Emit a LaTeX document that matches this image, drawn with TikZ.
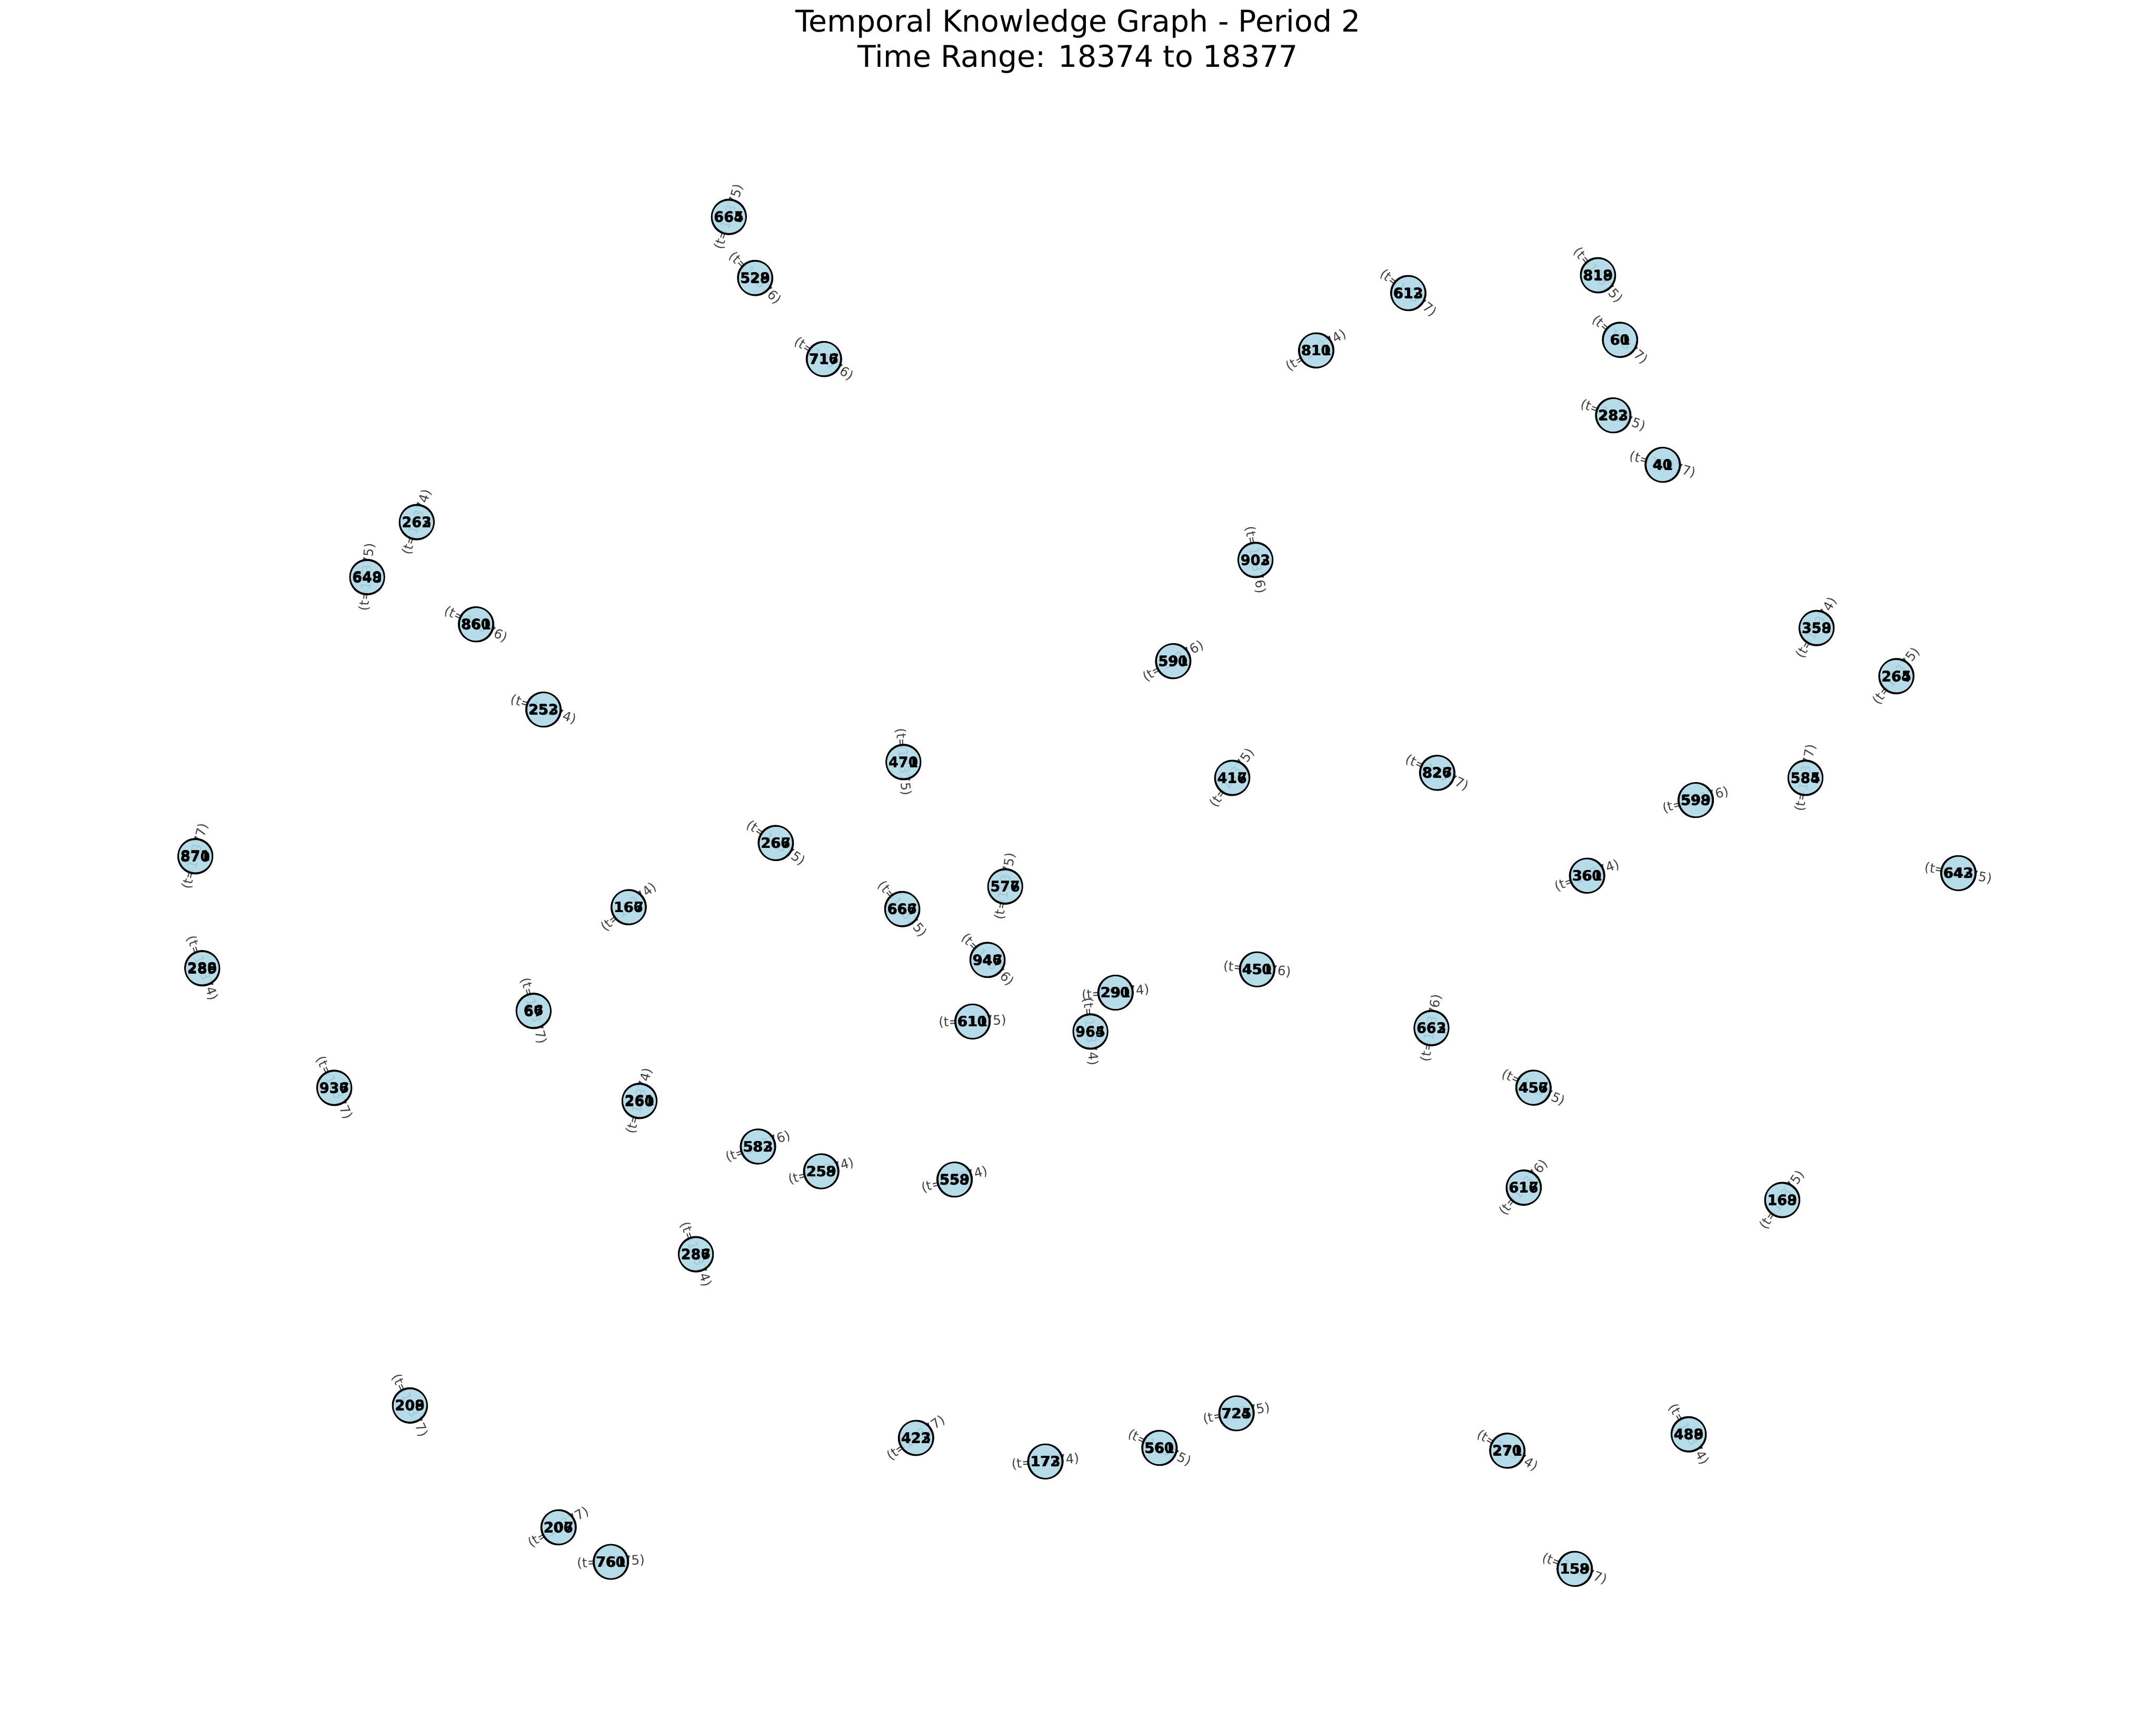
\documentclass[tikz,border=0pt]{standalone}
\usepackage{fontspec}
\setmainfont{DejaVu Sans}
\usepackage{tikz}
\usetikzlibrary{backgrounds}
\definecolor{lightblue}{RGB}{173,216,230}

\begin{document}
\begin{tikzpicture}[x=0.02cm,y=-0.02cm,
    main node/.style={circle,draw,line width=0.55pt,fill=lightblue,fill opacity=0.9,
      text opacity=1,minimum size=0.5cm,inner sep=0pt,font=\bfseries\fontsize{5.9}{6}\selectfont},
    twin node/.style={circle,draw,line width=0.55pt,minimum size=0.5cm,inner sep=0pt,
      font=\bfseries\fontsize{5.9}{6}\selectfont},
    every edge/.style={draw,black!50,line width=0.4pt},
    title/.style={align=center,font=\fontsize{12.4}{14.6}\selectfont}]

\useasboundingbox (0,0) rectangle (1568,1251);

\node[title] (title) at (784,30) {Temporal Knowledge Graph - Period 2\\Time Range: 18374 to 18377};

\node[main node] (664) at (530,158) {664};
\node[twin node] (665) at ([shift={(72:.3pt)}]664) {665};
\node[main node] (528) at (549,202) {528};
\node[twin node] (529) at ([shift={(-45:.3pt)}]528) {529};
\node[main node] (716) at (599,261) {716};
\node[twin node] (717) at ([shift={(-33:.3pt)}]716) {717};
\node[main node] (810) at (957,255) {810};
\node[twin node] (811) at ([shift={(31:.3pt)}]810) {811};
\node[main node] (612) at (1024,213) {612};
\node[twin node] (613) at ([shift={(-38:.3pt)}]612) {613};
\node[main node] (818) at (1162,200) {818};
\node[twin node] (819) at ([shift={(-50:.3pt)}]818) {819};
\node[main node] (60) at (1178,247) {60};
\node[twin node] (61) at ([shift={(-40:.3pt)}]60) {61};
\node[main node] (282) at (1173,302) {282};
\node[twin node] (283) at ([shift={(-20:.3pt)}]282) {283};
\node[main node] (40) at (1209,338) {40};
\node[twin node] (41) at ([shift={(-15:.3pt)}]40) {41};
\node[main node] (262) at (303,380) {262};
\node[twin node] (263) at ([shift={(72:.3pt)}]262) {263};
\node[main node] (648) at (267,420) {648};
\node[twin node] (649) at ([shift={(85:.3pt)}]648) {649};
\node[main node] (860) at (346,454) {860};
\node[twin node] (861) at ([shift={(-25:.3pt)}]860) {861};
\node[main node] (252) at (395,516) {252};
\node[twin node] (253) at ([shift={(-18:.3pt)}]252) {253};
\node[main node] (902) at (913,407) {902};
\node[twin node] (903) at ([shift={(-80:.3pt)}]902) {903};
\node[main node] (590) at (853,481) {590};
\node[twin node] (591) at ([shift={(30:.3pt)}]590) {591};
\node[main node] (358) at (1321,457) {358};
\node[twin node] (359) at ([shift={(60:.3pt)}]358) {359};
\node[main node] (264) at (1379,492) {264};
\node[twin node] (265) at ([shift={(52:.3pt)}]264) {265};
\node[main node] (470) at (657,554) {470};
\node[twin node] (471) at ([shift={(-85:.3pt)}]470) {471};
\node[main node] (416) at (896,566) {416};
\node[twin node] (417) at ([shift={(55:.3pt)}]416) {417};
\node[main node] (826) at (1045,562) {826};
\node[twin node] (827) at ([shift={(-25:.3pt)}]826) {827};
\node[main node] (598) at (1233,582) {598};
\node[twin node] (599) at ([shift={(15:.3pt)}]598) {599};
\node[main node] (584) at (1313,566) {584};
\node[twin node] (585) at ([shift={(80:.3pt)}]584) {585};
\node[main node] (870) at (142,623) {870};
\node[twin node] (871) at ([shift={(75:.3pt)}]870) {871};
\node[main node] (266) at (564,613) {266};
\node[twin node] (267) at ([shift={(-35:.3pt)}]266) {267};
\node[main node] (166) at (457,660) {166};
\node[twin node] (167) at ([shift={(40:.3pt)}]166) {167};
\node[main node] (666) at (656,661) {666};
\node[twin node] (667) at ([shift={(-50:.3pt)}]666) {667};
\node[main node] (576) at (731,645) {576};
\node[twin node] (577) at ([shift={(80:.3pt)}]576) {577};
\node[main node] (360) at (1154,637) {360};
\node[twin node] (361) at ([shift={(20:.3pt)}]360) {361};
\node[main node] (642) at (1424,635) {642};
\node[twin node] (643) at ([shift={(-10:.3pt)}]642) {643};
\node[main node] (288) at (147,704) {288};
\node[twin node] (289) at ([shift={(-70:.3pt)}]288) {289};
\node[main node] (946) at (718,698) {946};
\node[twin node] (947) at ([shift={(-45:.3pt)}]946) {947};
\node[main node] (290) at (811,722) {290};
\node[twin node] (291) at ([shift={(5:.3pt)}]290) {291};
\node[main node] (450) at (914,705) {450};
\node[twin node] (451) at ([shift={(-5:.3pt)}]450) {451};
\node[main node] (66) at (388,735) {66};
\node[twin node] (67) at ([shift={(-75:.3pt)}]66) {67};
\node[main node] (610) at (707,743) {610};
\node[twin node] (611) at ([shift={(2:.3pt)}]610) {611};
\node[main node] (964) at (793,750) {964};
\node[twin node] (965) at ([shift={(-85:.3pt)}]964) {965};
\node[main node] (662) at (1041,748) {662};
\node[twin node] (663) at ([shift={(80:.3pt)}]662) {663};
\node[main node] (936) at (243,791) {936};
\node[twin node] (937) at ([shift={(-65:.3pt)}]936) {937};
\node[main node] (260) at (465,801) {260};
\node[twin node] (261) at ([shift={(75:.3pt)}]260) {261};
\node[main node] (456) at (1115,791) {456};
\node[twin node] (457) at ([shift={(-25:.3pt)}]456) {457};
\node[main node] (582) at (551,834) {582};
\node[twin node] (583) at ([shift={(20:.3pt)}]582) {583};
\node[main node] (258) at (597,852) {258};
\node[twin node] (259) at ([shift={(15:.3pt)}]258) {259};
\node[main node] (558) at (694,858) {558};
\node[twin node] (559) at ([shift={(15:.3pt)}]558) {559};
\node[main node] (616) at (1108,864) {616};
\node[twin node] (617) at ([shift={(50:.3pt)}]616) {617};
\node[main node] (168) at (1296,873) {168};
\node[twin node] (169) at ([shift={(55:.3pt)}]168) {169};
\node[main node] (286) at (506,912) {286};
\node[twin node] (287) at ([shift={(-70:.3pt)}]286) {287};
\node[main node] (208) at (298,1022) {208};
\node[twin node] (209) at ([shift={(-65:.3pt)}]208) {209};
\node[main node] (422) at (666,1046) {422};
\node[twin node] (423) at ([shift={(35:.3pt)}]422) {423};
\node[main node] (172) at (760,1063) {172};
\node[twin node] (173) at ([shift={(5:.3pt)}]172) {173};
\node[main node] (560) at (843,1053) {560};
\node[twin node] (561) at ([shift={(-25:.3pt)}]560) {561};
\node[main node] (724) at (899,1028) {724};
\node[twin node] (725) at ([shift={(10:.3pt)}]724) {725};
\node[main node] (270) at (1096,1055) {270};
\node[twin node] (271) at ([shift={(-30:.3pt)}]270) {271};
\node[main node] (488) at (1228,1043) {488};
\node[twin node] (489) at ([shift={(-60:.3pt)}]488) {489};
\node[main node] (206) at (406,1111) {206};
\node[twin node] (207) at ([shift={(30:.3pt)}]206) {207};
\node[main node] (760) at (444,1136) {760};
\node[twin node] (761) at ([shift={(3:.3pt)}]760) {761};
\node[main node] (158) at (1145,1141) {158};
\node[twin node] (159) at ([shift={(-20:.3pt)}]158) {159};

\begin{scope}[on background layer]
\path[every node/.style={sloped,inner sep=0pt,text=black!75,font=\fontsize{5.4}{6}\selectfont}]
(664.center) edge node {(t=18375)} (665.center)
(528.center) edge node {(t=18376)} (529.center)
(716.center) edge node {(t=18376)} (717.center)
(810.center) edge node {(t=18374)} (811.center)
(612.center) edge node {(t=18377)} (613.center)
(818.center) edge node {(t=18375)} (819.center)
(60.center) edge node {(t=18377)} (61.center)
(282.center) edge node {(t=18375)} (283.center)
(40.center) edge node {(t=18377)} (41.center)
(262.center) edge node {(t=18374)} (263.center)
(648.center) edge node {(t=18375)} (649.center)
(860.center) edge node {(t=18376)} (861.center)
(252.center) edge node {(t=18374)} (253.center)
(902.center) edge node {(t=18376)} (903.center)
(590.center) edge node {(t=18376)} (591.center)
(358.center) edge node {(t=18374)} (359.center)
(264.center) edge node {(t=18375)} (265.center)
(470.center) edge node {(t=18375)} (471.center)
(416.center) edge node {(t=18375)} (417.center)
(826.center) edge node {(t=18377)} (827.center)
(598.center) edge node {(t=18376)} (599.center)
(584.center) edge node {(t=18377)} (585.center)
(870.center) edge node {(t=18377)} (871.center)
(266.center) edge node {(t=18375)} (267.center)
(166.center) edge node {(t=18374)} (167.center)
(666.center) edge node {(t=18375)} (667.center)
(576.center) edge node {(t=18375)} (577.center)
(360.center) edge node {(t=18374)} (361.center)
(642.center) edge node {(t=18375)} (643.center)
(288.center) edge node {(t=18374)} (289.center)
(946.center) edge node {(t=18376)} (947.center)
(290.center) edge node {(t=18374)} (291.center)
(450.center) edge node {(t=18376)} (451.center)
(66.center) edge node {(t=18377)} (67.center)
(610.center) edge node {(t=18375)} (611.center)
(964.center) edge node {(t=18374)} (965.center)
(662.center) edge node {(t=18376)} (663.center)
(936.center) edge node {(t=18377)} (937.center)
(260.center) edge node {(t=18374)} (261.center)
(456.center) edge node {(t=18375)} (457.center)
(582.center) edge node {(t=18376)} (583.center)
(258.center) edge node {(t=18374)} (259.center)
(558.center) edge node {(t=18374)} (559.center)
(616.center) edge node {(t=18376)} (617.center)
(168.center) edge node {(t=18375)} (169.center)
(286.center) edge node {(t=18374)} (287.center)
(208.center) edge node {(t=18377)} (209.center)
(422.center) edge node {(t=18377)} (423.center)
(172.center) edge node {(t=18374)} (173.center)
(560.center) edge node {(t=18375)} (561.center)
(724.center) edge node {(t=18375)} (725.center)
(270.center) edge node {(t=18374)} (271.center)
(488.center) edge node {(t=18374)} (489.center)
(206.center) edge node {(t=18377)} (207.center)
(760.center) edge node {(t=18375)} (761.center)
(158.center) edge node {(t=18377)} (159.center)
;
\end{scope}

\end{tikzpicture}
\end{document}
